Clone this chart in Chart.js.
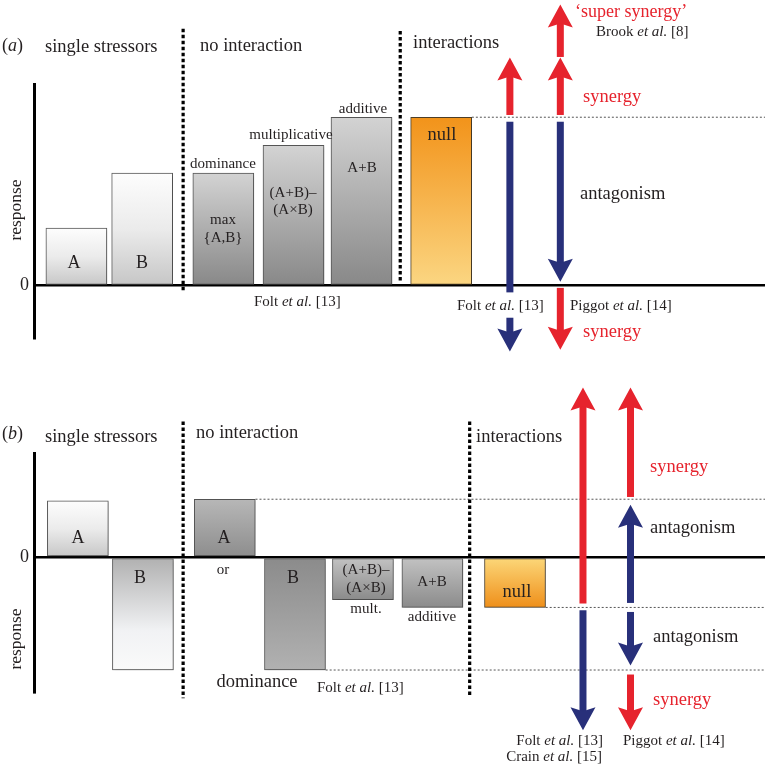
<!DOCTYPE html>
<html><head><meta charset="utf-8">
<script src="https://cdn.jsdelivr.net/npm/chart.js@4"></script>
<style>
html,body{margin:0;padding:0;background:#fff;}
#wrap{position:relative;width:765px;height:766px;overflow:hidden;}
.pane{position:absolute;left:0;width:765px;}
</style></head><body>
<div id="wrap">
  <div class="pane" style="top:0;height:370px"><canvas id="ca" width="765" height="370"></canvas></div>
  <div class="pane" style="top:370px;height:396px"><canvas id="cb" width="765" height="396"></canvas></div>
</div>
<script>
// ---------------- DATA : panel (a) ----------------
const aBarNames  = ['A', 'B', 'dominance', 'multiplicative', 'additive', 'null'];
const aBarX      = [0.58, 1.48, 2.59, 3.55, 4.48, 5.57];
const aBarValues = [1.02, 2.0, 2.0, 2.49, 2.99, 2.99];
const aBarKinds  = ['single', 'single', 'none', 'none', 'none', 'nullA'];
const aDividerX      = [2.04, 5.01];
const aDividerTop    = [4.56, 4.52];
const aDividerBottom = [-0.10, 0.05];
const aGuideY    = [2.99];
const aGuideFrom = [5.99];
const aArrowX    = [6.51, 6.51, 6.51, 7.20, 7.20, 7.20, 7.20];
const aArrowFrom = [3.03, 2.91, -0.57, 4.06, 3.03, 2.91, -0.04];
const aArrowTo   = [4.05, -0.12, -1.17, 4.99, 4.05, 0.07, -1.14];
const aArrowType = ['synergy', 'antagonism', 'antagonism', 'synergy', 'synergy', 'antagonism', 'synergy'];
const aArrowHead = [true, false, true, true, true, true, true];
const aYRange = [-0.93, 3.58];

// ---------------- DATA : panel (b) ----------------
const bBarNames  = ['A', 'B', 'dominance A', 'dominance B', 'mult.', 'additive', 'null'];
const bBarX      = [0.60, 1.49, 2.61, 3.57, 4.50, 5.45, 6.58];
const bBarValues = [1.0, -2.0, 1.03, -2.0, -0.75, -0.89, -0.89];
const bBarKinds  = ['single', 'singleDown', 'domA', 'domB', 'mult', 'mult', 'nullB'];
const bDividerX      = [2.04, 5.96];
const bDividerTop    = [2.41, 2.41];
const bDividerBottom = [-2.50, -2.48];
const bGuideY    = [1.03, -0.89, -2.0];
const bGuideFrom = [3.03, 7.00, 3.99];
const bArrowX    = [7.51, 7.51, 8.16, 8.16, 8.16, 8.16];
const bArrowFrom = [-0.82, -0.94, 1.07, -0.81, -0.97, -2.08];
const bArrowTo   = [3.01, -3.07, 3.01, 0.93, -1.92, -3.07];
const bArrowType = ['synergy', 'antagonism', 'synergy', 'antagonism', 'antagonism', 'synergy'];
const bArrowHead = [true, true, true, true, true, true];
const bYRange = [-2.39, 1.85];

const xRange = [0, 10];

// ---------------- STYLE ----------------
const FONT = "'Liberation Serif', 'DejaVu Serif', 'Times New Roman', serif";
const TEXT = '#231f20';
const RED = '#e6232d';
const BLUE = '#28307a';
const ARROW_COLORS = { synergy: RED, antagonism: BLUE };
const SHAFT = 7, HEAD_W = 25, HEAD_L = 23, NOTCH = 4;
const FILLS = {
  single:     [[0, '#fdfdfd'], [0.5, '#ebebeb'], [1, '#c6c6c6']],
  none:       [[0, '#d3d3d3'], [1, '#888888']],
  nullA:      [[0, '#f2931a'], [1, '#fbd682']],
  singleDown: [[0, '#b0b0b0'], [0.65, '#f1f2f4'], [1, '#fafafa']],
  domA:       [[0, '#b7b7b7'], [1, '#8d8d8d']],
  domB:       [[0, '#8b8b8b'], [1, '#b1b1b1']],
  mult:       [[0, '#c3c3c3'], [1, '#8b8b8b']],
  nullB:      [[0, '#fcd87a'], [1, '#ef8f1a']]
};
const BORDERS = {
  single: '#5a5a5a', none: '#555555', nullA: '#4d3f28', singleDown: '#5a5a5a',
  domA: '#555555', domB: '#555555', mult: '#555555', nullB: '#4d3f28'
};

// ---------------- TEXT ANNOTATIONS (pixel layout) ----------------
const aTexts = [
  { t: '(*a*)', x: 2, y: 51, s: 18 },
  { t: 'single stressors', x: 45, y: 52, s: 18.5 },
  { t: 'no interaction', x: 200, y: 51, s: 18.5 },
  { t: 'interactions', x: 413, y: 48, s: 18.5 },
  { t: '\u2018super synergy\u2019', x: 575, y: 17, s: 18, c: RED },
  { t: 'Brook *et al.* [8]', x: 596, y: 36, s: 15 },
  { t: 'synergy', x: 583, y: 102, s: 18.5, c: RED },
  { t: 'antagonism', x: 580, y: 199, s: 18.5 },
  { t: 'null', x: 442, y: 140, s: 18.5, a: 'center' },
  { t: 'Folt *et al.* [13]', x: 457, y: 310, s: 15 },
  { t: 'Piggot *et al.* [14]', x: 570, y: 310, s: 15 },
  { t: 'synergy', x: 583, y: 337, s: 18.5, c: RED },
  { t: 'dominance', x: 223, y: 168, s: 15, a: 'center' },
  { t: 'multiplicative', x: 291, y: 139, s: 15, a: 'center' },
  { t: 'additive', x: 363, y: 113, s: 15, a: 'center' },
  { t: 'max', x: 223, y: 224, s: 15, a: 'center' },
  { t: '{A,B}', x: 223, y: 242, s: 15, a: 'center' },
  { t: '(A+B)\u2013', x: 293, y: 197, s: 15, a: 'center' },
  { t: '(A\u00d7B)', x: 293, y: 214, s: 15, a: 'center' },
  { t: 'A+B', x: 362, y: 172, s: 15, a: 'center' },
  { t: 'A', x: 74, y: 268, s: 18, a: 'center' },
  { t: 'B', x: 142, y: 268, s: 18, a: 'center' },
  { t: 'Folt *et al.* [13]', x: 254, y: 306, s: 15 }
];
const aTitle = { t: 'response', x: 21, y: 210, s: 17.5 };

const bTexts = [
  { t: '(*b*)', x: 2, y: 69, s: 18 },
  { t: 'single stressors', x: 45, y: 72, s: 18.5 },
  { t: 'no interaction', x: 196, y: 68, s: 18.5 },
  { t: 'interactions', x: 476, y: 72, s: 18.5 },
  { t: 'synergy', x: 650, y: 102, s: 18.5, c: RED },
  { t: 'antagonism', x: 650, y: 163, s: 18.5 },
  { t: 'antagonism', x: 653, y: 272, s: 18.5 },
  { t: 'synergy', x: 653, y: 335, s: 18.5, c: RED },
  { t: 'Folt *et al.* [13]', x: 603, y: 375, s: 15, a: 'right' },
  { t: 'Crain *et al.* [15]', x: 602, y: 391, s: 15, a: 'right' },
  { t: 'Piggot *et al.* [14]', x: 623, y: 375, s: 15 },
  { t: 'A', x: 78, y: 173, s: 18, a: 'center' },
  { t: 'B', x: 140, y: 213, s: 18, a: 'center' },
  { t: 'A', x: 224, y: 173, s: 18, a: 'center' },
  { t: 'or', x: 223, y: 204, s: 15, a: 'center' },
  { t: 'B', x: 293, y: 213, s: 18, a: 'center' },
  { t: '(A+B)\u2013', x: 366, y: 204, s: 15, a: 'center' },
  { t: '(A\u00d7B)', x: 366, y: 222, s: 15, a: 'center' },
  { t: 'mult.', x: 366, y: 243, s: 15, a: 'center' },
  { t: 'A+B', x: 432, y: 216, s: 15, a: 'center' },
  { t: 'additive', x: 432, y: 251, s: 15, a: 'center' },
  { t: 'null', x: 517, y: 227, s: 18.5, a: 'center' },
  { t: 'dominance', x: 257, y: 317, s: 18.5, a: 'center' },
  { t: 'Folt *et al.* [13]', x: 317, y: 322, s: 15 }
];
const bTitle = { t: 'response', x: 21, y: 269, s: 17.5 };

// ---------------- HELPERS ----------------
function drawRich(ctx, it) {
  const parts = it.t.split('*');
  const fonts = parts.map((p, i) => (i % 2 ? 'italic ' : '') + it.s + 'px ' + FONT);
  const widths = parts.map((p, i) => { ctx.font = fonts[i]; return ctx.measureText(p).width; });
  const total = widths.reduce((a, b) => a + b, 0);
  let x = it.a === 'center' ? it.x - total / 2 : it.a === 'right' ? it.x - total : it.x;
  ctx.textBaseline = 'alphabetic';
  ctx.textAlign = 'left';
  ctx.fillStyle = it.c || TEXT;
  parts.forEach((p, i) => { ctx.font = fonts[i]; ctx.fillText(p, x, it.y); x += widths[i]; });
}

function barFill(values, kinds) {
  return (c) => {
    const chart = c.chart;
    if (c.type !== 'data' || !chart.chartArea) return '#cccccc';
    const v = values[c.dataIndex];
    const y = chart.scales.y;
    const y0 = y.getPixelForValue(Math.max(0, v));
    const y1 = y.getPixelForValue(Math.min(0, v));
    const g = chart.ctx.createLinearGradient(0, y0, 0, y1);
    FILLS[kinds[c.dataIndex]].forEach(([o, col]) => g.addColorStop(o, col));
    return g;
  };
}

const shadowPlugin = {
  id: 'barShadow',
  beforeDatasetDraw(chart, args) {
    if (args.meta.type !== 'bar') return;
    const ctx = chart.ctx;
    ctx.save();
    ctx.shadowColor = 'rgba(0,0,0,0.22)';
    ctx.shadowBlur = 3;
    ctx.shadowOffsetX = 1.5;
    ctx.shadowOffsetY = 1.5;
  },
  afterDatasetDraw(chart, args) {
    if (args.meta.type !== 'bar') return;
    chart.ctx.restore();
  }
};

function makeArrowPlugin(xs, froms, tos, types, heads) {
  return {
    id: 'arrows',
    afterDatasetsDraw(chart) {
      const { ctx, scales } = chart;
      ctx.save();
      xs.forEach((xv, i) => {
        const px = scales.x.getPixelForValue(xv);
        const p0 = scales.y.getPixelForValue(froms[i]);
        const p1 = scales.y.getPixelForValue(tos[i]);
        const dir = Math.sign(p1 - p0);
        ctx.fillStyle = ARROW_COLORS[types[i]];
        const hl = heads[i] ? HEAD_L : 0;
        const sEnd = heads[i] ? p1 - dir * (hl - NOTCH - 1) : p1;
        ctx.fillRect(px - SHAFT / 2, Math.min(p0, sEnd), SHAFT, Math.abs(sEnd - p0));
        if (heads[i]) {
          ctx.beginPath();
          ctx.moveTo(px, p1);
          ctx.lineTo(px - HEAD_W / 2, p1 - dir * hl);
          ctx.lineTo(px, p1 - dir * (hl - NOTCH));
          ctx.lineTo(px + HEAD_W / 2, p1 - dir * hl);
          ctx.closePath();
          ctx.fill();
        }
      });
      ctx.restore();
    }
  };
}

function makeTextPlugin(texts, title) {
  return {
    id: 'texts',
    afterDraw(chart) {
      const ctx = chart.ctx;
      ctx.save();
      texts.forEach(it => drawRich(ctx, it));
      ctx.translate(title.x, title.y);
      ctx.rotate(-Math.PI / 2);
      ctx.font = title.s + 'px ' + FONT;
      ctx.fillStyle = TEXT;
      ctx.textAlign = 'center';
      ctx.textBaseline = 'alphabetic';
      ctx.fillText(title.t, 0, 0);
      ctx.restore();
    }
  };
}

function build(canvasId, P) {
  const datasets = [];
  datasets.push({
    type: 'bar',
    label: 'bars',
    data: P.barX.map((x, i) => ({ x: x, y: P.barValues[i] })),
    backgroundColor: barFill(P.barValues, P.barKinds),
    borderColor: P.barKinds.map(k => BORDERS[k]),
    borderWidth: 1,
    borderSkipped: false,
    barThickness: 61,
    order: 2
  });
  P.dividerX.forEach((x, i) => datasets.push({
    type: 'line',
    label: 'divider' + i,
    data: [{ x: x, y: P.dividerTop[i] }, { x: x, y: P.dividerBottom[i] }],
    borderColor: '#000000',
    borderWidth: 3.2,
    borderDash: [3.5, 2.5],
    borderCapStyle: 'butt',
    pointRadius: 0,
    clip: false,
    order: 1
  }));
  P.guideY.forEach((yv, i) => datasets.push({
    type: 'line',
    label: 'guide' + i,
    data: [{ x: P.guideFrom[i], y: yv }, { x: xRange[1], y: yv }],
    borderColor: '#555555',
    borderWidth: 1,
    borderDash: [2, 2],
    pointRadius: 0,
    clip: false,
    order: 1
  }));
  return new Chart(document.getElementById(canvasId), {
    type: 'bar',
    data: { datasets },
    options: {
      responsive: false,
      maintainAspectRatio: false,
      animation: false,
      events: [],
      layout: { padding: P.padding },
      plugins: { legend: { display: false }, tooltip: { enabled: false } },
      scales: {
        x: { type: 'linear', display: false, min: xRange[0], max: xRange[1], offset: false },
        y: {
          type: 'linear',
          min: P.yRange[0], max: P.yRange[1],
          afterFit(s) { s.width = 34; },
          afterBuildTicks(s) { s.ticks = [{ value: 0 }]; },
          ticks: { font: { family: FONT, size: 18 }, color: TEXT, padding: 5 },
          grid: { drawTicks: false, color: '#000000', lineWidth: 2.6 },
          border: { display: true, color: '#000000', width: 3 }
        }
      }
    },
    plugins: [shadowPlugin,
              makeArrowPlugin(P.arrowX, P.arrowFrom, P.arrowTo, P.arrowType, P.arrowHead),
              makeTextPlugin(P.texts, P.title)]
  });
}

build('ca', {
  barX: aBarX, barValues: aBarValues, barKinds: aBarKinds,
  dividerX: aDividerX, dividerTop: aDividerTop, dividerBottom: aDividerBottom,
  guideY: aGuideY, guideFrom: aGuideFrom,
  arrowX: aArrowX, arrowFrom: aArrowFrom, arrowTo: aArrowTo, arrowType: aArrowType, arrowHead: aArrowHead,
  yRange: aYRange, padding: { top: 84, bottom: 32, left: 0, right: 0 },
  texts: aTexts, title: aTitle
});
build('cb', {
  barX: bBarX, barValues: bBarValues, barKinds: bBarKinds,
  dividerX: bDividerX, dividerTop: bDividerTop, dividerBottom: bDividerBottom,
  guideY: bGuideY, guideFrom: bGuideFrom,
  arrowX: bArrowX, arrowFrom: bArrowFrom, arrowTo: bArrowTo, arrowType: bArrowType, arrowHead: bArrowHead,
  yRange: bYRange, padding: { top: 83, bottom: 74, left: 0, right: 0 },
  texts: bTexts, title: bTitle
});
</script>
</body></html>
